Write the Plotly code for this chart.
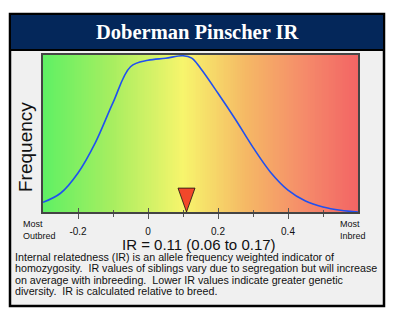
import numpy as np
import plotly.graph_objects as go

# ---- data ----
ir_x = [-0.30, -0.25, -0.20, -0.15, -0.10, -0.05, 0.00, 0.05, 0.10, 0.125,
        0.15, 0.20, 0.25, 0.30, 0.35, 0.40, 0.45, 0.50, 0.55, 0.60]
freq = [0.062, 0.12, 0.25, 0.446, 0.70, 0.93, 0.971, 0.984, 1.0, 0.985,
        0.92, 0.76, 0.592, 0.414, 0.255, 0.14, 0.07, 0.032, 0.011, 0.0]
ir_value = 0.11
ir_low = 0.06
ir_high = 0.17
tick_vals = [-0.2, 0, 0.2, 0.4]
tick_text = ["-0.2", "0", "0.2", "0.4"]
minor_vals = [-0.1, 0.1, 0.3, 0.5]
title = "Doberman Pinscher IR"
desc_lines = [
    "Internal relatedness (IR) is an allele frequency weighted indicator of",
    "homozygosity.\u00a0 IR values of siblings vary due to segregation but will increase",
    "on average with inbreeding.\u00a0 Lower IR values indicate greater genetic",
    "diversity.\u00a0 IR is calculated relative to breed.",
]

W, H = 395, 318
L, R, T, B = 43, 358, 55, 212
XMIN, XMAX = -0.3, 0.6


def px2x(px):
    return (px - L) / (R - L)


def px2y(py):
    return (B - py) / (B - T)


fig = go.Figure()

# background gradient
gx = np.linspace(XMIN, XMAX, 181)
stops = [(-0.3, "#5ff064"), (-0.1, "#a8ee60"), (0.1, "#f7f56c"),
         (0.28, "#f5b865"), (0.45, "#f58a6a"), (0.6, "#f26464")]
cs = [[(v - XMIN) / (XMAX - XMIN), c] for v, c in stops]
fig.add_trace(go.Heatmap(x=gx, y=[0, 1.1], z=[list(gx), list(gx)], colorscale=cs,
                         zmin=XMIN, zmax=XMAX, showscale=False, hoverinfo="skip"))

# curve
fig.add_trace(go.Scatter(x=ir_x, y=freq, mode="lines",
                         line=dict(color="#2050f0", width=1.6, shape="spline", smoothing=1.0),
                         hoverinfo="skip", showlegend=False))

# IR marker triangle
hw = 8.5 / (R - L) * (XMAX - XMIN)
th = 24 / (B - T)
fig.add_trace(go.Scatter(x=[ir_value - hw, ir_value + hw, ir_value, ir_value - hw],
                         y=[th, th, 0, th], mode="lines", fill="toself",
                         fillcolor="#f2482a", line=dict(color="#111111", width=0.8),
                         hoverinfo="skip", showlegend=False))

# overlay axis for inside ticks
fig.add_trace(go.Scatter(x=[XMIN], y=[0], xaxis="x2", mode="markers", marker=dict(opacity=0),
                         hoverinfo="skip", showlegend=False))

fig.update_layout(
    width=W, height=H,
    margin=dict(l=L, r=W - R, t=T, b=H - B),
    paper_bgcolor="white", plot_bgcolor="rgba(0,0,0,0)",
    showlegend=False,
    xaxis=dict(range=[XMIN, XMAX], tickvals=tick_vals, ticktext=tick_text,
               ticks="outside", ticklen=5, tickwidth=1.3, tickcolor="#555555",
               minor=dict(tickvals=minor_vals, ticks="outside", ticklen=3, tickwidth=1.3, tickcolor="#555555"),
               showgrid=False, zeroline=False, showline=True, mirror=True, linecolor="#444444", linewidth=1.5,
               tickfont=dict(family="Liberation Sans", size=10, color="#111111"),
               ticklabelstandoff=4, fixedrange=True),
    xaxis2=dict(range=[XMIN, XMAX], overlaying="x", side="bottom", anchor="y",
                tickvals=tick_vals, showticklabels=False,
                ticks="inside", ticklen=4, tickwidth=1.3, tickcolor="#555555",
                minor=dict(tickvals=minor_vals, ticks="inside", ticklen=2, tickwidth=1.3, tickcolor="#555555"),
                showgrid=False, zeroline=False, showline=False, fixedrange=True),
    yaxis=dict(range=[0, 1.005], showticklabels=False, ticks="", showgrid=False, zeroline=False,
               showline=True, mirror=True, linecolor="#444444", linewidth=1.5, fixedrange=True),
)

shapes = [
    dict(type="rect", xref="paper", yref="paper", x0=px2x(10), x1=px2x(384), y0=px2y(306), y1=px2y(14),
         fillcolor="#f0f0f0", line=dict(color="black", width=2.5), layer="below"),
    dict(type="rect", xref="paper", yref="paper", x0=px2x(10), x1=px2x(384), y0=px2y(50), y1=px2y(14),
         fillcolor="#04275a", line=dict(color="black", width=2), layer="below"),
]
fig.update_layout(shapes=shapes)

ann = [
    dict(text="<b>" + title + "</b>", x=px2x(197), y=px2y(32), font=dict(family="Liberation Serif", size=20.5, color="white")),
    dict(text="Frequency", x=px2x(25), y=px2y(147), textangle=-90,
         font=dict(family="Liberation Sans", size=19, color="#111111")),
    dict(text="Most<br>Outbred", x=px2x(21), y=px2y(230), xanchor="left", align="left",
         font=dict(family="Liberation Sans", size=9, color="#111111")),
    dict(text="Most<br>Inbred", x=px2x(338), y=px2y(230), xanchor="left", align="left",
         font=dict(family="Liberation Sans", size=9, color="#111111")),
    dict(text=f"IR = {ir_value:.2f} ({ir_low:.2f} to {ir_high:.2f})", x=px2x(199), y=px2y(244.5),
         font=dict(family="Liberation Sans", size=15, color="#111111")),
]
for i, line in enumerate(desc_lines):
    ann.append(dict(text=line, x=px2x(13), y=px2y(256.5 + i * 11.6), xanchor="left",
                    font=dict(family="Liberation Sans", size=10.7, color="#111111")))
for a in ann:
    a.update(xref="paper", yref="paper", showarrow=False)
    a.setdefault("xanchor", "center")
    a.setdefault("yanchor", "middle")
fig.update_layout(annotations=ann)

fig.write_html("out.html", config={"displayModeBar": False},
               post_script="document.body.style.margin='0';document.body.style.overflow='hidden';")
